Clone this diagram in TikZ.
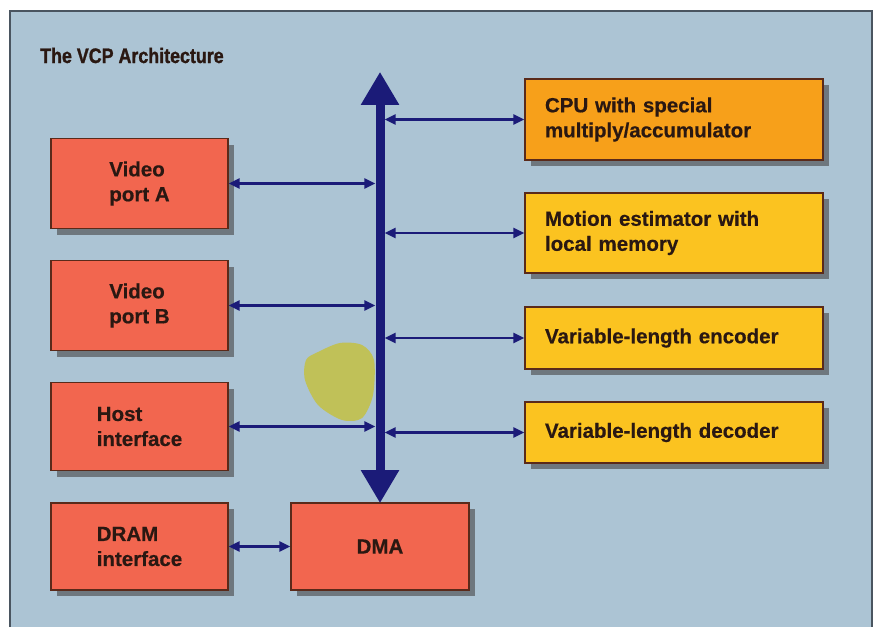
\documentclass[tikz,border=0pt]{standalone}
\usepackage{fontspec}
\setmainfont{Liberation Sans}[BoldFeatures={FakeBold=0.5}]
\newfontfamily\titlefont{Liberation Sans}[FakeStretch=0.85, BoldFeatures={FakeBold=1.2}]
\usetikzlibrary{arrows.meta,shadows}
\definecolor{bgc}{HTML}{ACC4D4}
\definecolor{framec}{HTML}{4A5560}
\definecolor{redc}{HTML}{F2664F}
\definecolor{cpuc}{HTML}{F7A01A}
\definecolor{yelc}{HTML}{FBC320}
\definecolor{navy}{HTML}{1B1B78}
\definecolor{edgec}{HTML}{5A2A1A}
\definecolor{txtc}{HTML}{2A1812}
\definecolor{shadc}{HTML}{646A70}
\definecolor{blobc}{HTML}{C0C158}
\tikzset{
  box/.style={draw=edgec, line width=1.3pt, inner sep=0pt, text=txtc,
    font=\bfseries\fontsize{20.5}{25}\selectfont,
    drop shadow={shadow xshift=6pt, shadow yshift=-6pt, fill=shadc, opacity=.85}},
  leftbox/.style={box, fill=redc, align=left, minimum width=177pt},
  rightbox/.style={box, align=left, text width=258pt, minimum width=298pt},
  link/.style={{Triangle[length=11pt,width=10pt]}-{Triangle[length=11pt,width=10pt]}, line width=2.6pt, draw=navy},
  busline/.style={{Triangle[length=33pt,width=36pt]}-{Triangle[length=33pt,width=36pt]}, line width=9pt, draw=navy}
}
\begin{document}
\begin{tikzpicture}[x=1pt,y=-1pt]
\useasboundingbox (0,0) rectangle (875,627);
\fill[white] (0,0) rectangle (875,627);
\fill[bgc] (10,11) rectangle (872,627);
\draw[framec, line width=1.2pt] (10,627) -- (10,11) -- (872,11) -- (872,627);
\node[anchor=base west, text=txtc, font=\titlefont\bfseries\fontsize{21}{21}\selectfont, inner sep=0pt] (title) at (40,63) {The VCP Architecture};
% stain
\fill[blobc] plot[smooth cycle] coordinates {(318,352) (340,343) (362,345) (374,360) (373,395) (362,418) (342,420) (318,405) (305,380) (306,360)};
% left boxes
\node[leftbox, minimum height=90pt] (vpa) at (139.5,183.5) {Video\\port A};
\node[leftbox, minimum height=90pt] (vpb) at (139.5,305.5) {Video\\port B};
\node[leftbox, minimum height=88pt] (host) at (139.5,426.5) {Host\\interface};
\node[leftbox, minimum height=87pt] (dram) at (139.5,546.5) {DRAM\\interface};
\node[box, fill=redc, minimum width=178pt, minimum height=87pt] (dma) at (380,546.5) {DMA};
% right boxes
\node[rightbox, fill=cpuc, minimum height=81pt] (cpu) at (674,119.5) {CPU with special\\multiply/accumulator};
\node[rightbox, fill=yelc, minimum height=80pt] (me) at (674,233) {Motion estimator with\\local memory};
\node[rightbox, fill=yelc, minimum height=62pt] (vle) at (674,338) {Variable-length encoder};
\node[rightbox, fill=yelc, minimum height=61pt] (vld) at (674,432.5) {Variable-length decoder};
% bus
\node[inner sep=0pt, minimum width=9pt, minimum height=431pt] (bus) at (380,287.5) {};
\draw[busline] (bus.north) -- (bus.south);
% connectors
\draw[link] (vpa.east) -- (vpa.east -| bus.west);
\draw[link] (vpb.east) -- (vpb.east -| bus.west);
\draw[link] (host.east) -- (host.east -| bus.west);
\draw[link] (cpu.west) -- (cpu.west -| bus.east);
\draw[link] (me.west) -- (me.west -| bus.east);
\draw[link] (vle.west) -- (vle.west -| bus.east);
\draw[link] (vld.west) -- (vld.west -| bus.east);
\draw[link] (dram.east) -- (dma.west);
\end{tikzpicture}
\end{document}
